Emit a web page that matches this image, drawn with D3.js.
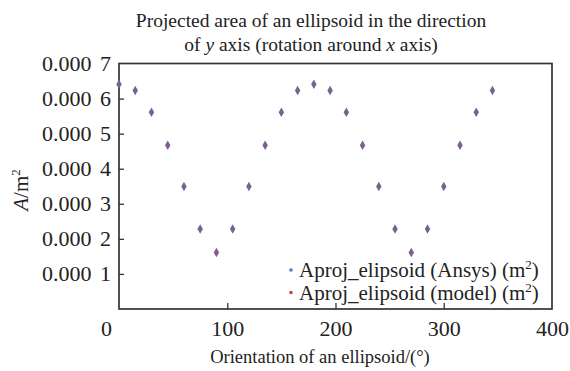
<!DOCTYPE html>
<html>
<head>
<meta charset="utf-8">
<script src="https://cdn.jsdelivr.net/npm/d3@7"></script>
<style>
  body { margin: 0; background: #fff; }
  svg { display: block; }
  text { font-family: "Liberation Serif", "Times New Roman", serif; fill: #222; }
</style>
</head>
<body>
<svg id="chart" width="570" height="371"></svg>
<script>
const angles = [0, 15, 30, 45, 60, 75, 90, 105, 120, 135, 150, 165, 180, 195, 210, 225, 240, 255, 270, 285, 300, 315, 330, 345];
const ansysValues = [0.000641, 0.000623, 0.000561, 0.000467, 0.000349, 0.000228, 0.000161, 0.000228, 0.000349, 0.000467, 0.000561, 0.000623, 0.000641, 0.000623, 0.000561, 0.000467, 0.000349, 0.000228, 0.000161, 0.000228, 0.000349, 0.000467, 0.000561, 0.000623];
const modelValues = [0.000641, 0.000623, 0.000561, 0.000467, 0.000349, 0.000228, 0.000161, 0.000228, 0.000349, 0.000467, 0.000561, 0.000623, 0.000641, 0.000623, 0.000561, 0.000467, 0.000349, 0.000228, 0.000161, 0.000228, 0.000349, 0.000467, 0.000561, 0.000623];
const xTicks = [0, 100, 200, 300, 400];
const yTicks = [0.0001, 0.0002, 0.0003, 0.0004, 0.0005, 0.0006, 0.0007];
const yTickLabels = ["0.000 1", "0.000 2", "0.000 3", "0.000 4", "0.000 5", "0.000 6", "0.000 7"];
const seriesNames = ["Aproj_elipsoid (Ansys) (m", "Aproj_elipsoid (model) (m"];
const seriesColors = ["#4f78c0", "#c8404f"];

const svg = d3.select("#chart");
const L = 119, R = 552, T = 63.5, B = 309;

const x = d3.scaleLinear().domain([0, 400]).range([L, R]);
const y = d3.scaleLinear().domain([0, 0.0007]).range([B, T]);

// Frame
svg.append("rect").attr("x", L).attr("y", T).attr("width", R - L).attr("height", B - T)
  .attr("fill", "none").attr("stroke", "#333").attr("stroke-width", 1.7);

// X axis
const xAxis = d3.axisBottom(x).tickValues(xTicks).tickSize(-6).tickPadding(11).tickFormat(d3.format("d"));
const gx = svg.append("g").attr("transform", `translate(0,${B})`).call(xAxis);
gx.select(".domain").remove();
gx.selectAll(".tick line").attr("stroke", "#333").attr("stroke-width", 1.3);
gx.selectAll(".tick text").style("font-size", "22px").attr("fill", "#222")
  .attr("dx", d => d === 0 ? -13 : 0);
gx.selectAll(".tick").filter(d => d === 0 || d === 400).select("line").remove();

// Y axis
const yAxis = d3.axisLeft(y).tickValues(yTicks).tickSize(-5).tickPadding(8)
  .tickFormat((d, i) => yTickLabels[i]);
const gy = svg.append("g").attr("transform", `translate(${L},0)`).call(yAxis);
gy.select(".domain").remove();
gy.selectAll(".tick line").attr("stroke", "#333").attr("stroke-width", 1.3);
gy.selectAll(".tick text").style("font-size", "22px").style("word-spacing", "3px").attr("fill", "#222");
gy.selectAll(".tick").filter(d => d === 0.0007).select("line").remove();

// Points
const diamond = d3.symbol().type(d3.symbolDiamond).size(26);
svg.append("g").selectAll("path.a").data(angles).join("path")
  .attr("transform", (d, i) => `translate(${x(d)},${y(ansysValues[i])})`)
  .attr("d", diamond).attr("fill", seriesColors[0]);
svg.append("g").selectAll("path.m").data(angles).join("path")
  .attr("transform", (d, i) => `translate(${x(d)},${y(modelValues[i])})`)
  .attr("d", d3.symbol().type(d3.symbolDiamond).size(16)).attr("fill", seriesColors[1]).attr("opacity", 0.6);

// Title
const title = svg.append("text").attr("text-anchor", "middle").style("font-size", "19.5px");
title.append("tspan").attr("x", 311).attr("y", 27).text("Projected area of an ellipsoid in the direction");
const t2 = title.append("tspan").attr("x", 311).attr("y", 51);
t2.append("tspan").text("of ");
t2.append("tspan").attr("font-style", "italic").text("y");
t2.append("tspan").text(" axis (rotation around ");
t2.append("tspan").attr("font-style", "italic").text("x");
t2.append("tspan").text(" axis)");

// X label
svg.append("text").attr("x", 320).attr("y", 363).attr("text-anchor", "middle")
  .style("font-size", "18.5px").text("Orientation of an ellipsoid/(°)");

// Y label
const yl = svg.append("text").attr("transform", "translate(28,190) rotate(-90)")
  .attr("text-anchor", "middle").style("font-size", "21px");
yl.append("tspan").attr("font-style", "italic").text("A");
yl.append("tspan").text("/m");
yl.append("tspan").style("font-size", "13px").attr("dy", -8).text("2");

// Legend
const leg = svg.append("g");
seriesNames.forEach((name, i) => {
  const yy = 270 + i * 22.5;
  leg.append("circle").attr("cx", 291).attr("cy", yy).attr("r", 1.8).attr("fill", seriesColors[i]);
  const t = leg.append("text").attr("x", 299).attr("y", yy + 7).style("font-size", "21px");
  t.append("tspan").text(name);
  t.append("tspan").style("font-size", "13px").attr("dy", -8).text("2");
  t.append("tspan").attr("dy", 8).text(")");
});
</script>
</body>
</html>
